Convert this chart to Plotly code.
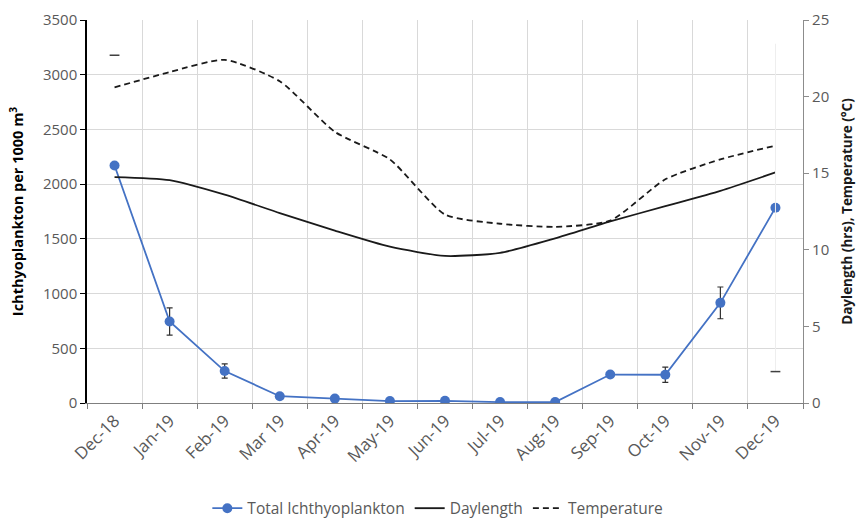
import plotly.graph_objects as go

# Monthly sampling periods
months = ["Dec-18", "Jan-19", "Feb-19", "Mar 19", "Apr-19", "May-19", "Jun-19",
          "Jul-19", "Aug-19", "Sep-19", "Oct-19", "Nov-19", "Dec-19"]

# Total ichthyoplankton density (per 1000 m^3) and its standard error
ichthyo = [2170, 745, 292, 62, 40, 18, 20, 8, 8, 260, 258, 915, 1785]
ichthyo_err = [None, 125, 65, 12, 8, 4, 4, 2, 2, 15, 70, 145, None]

# Environmental variables on the secondary axis
daylength = [14.75, 14.55, 13.6, 12.4, 11.25, 10.2, 9.6, 9.8, 10.75, 11.85, 12.85, 13.85, 15.05]
temperature = [20.6, 21.6, 22.4, 21.0, 17.7, 15.9, 12.3, 11.7, 11.5, 11.9, 14.6, 15.9, 16.8]

# Stray temperature range markers at the first and last month
range_months = ["Dec-18", "Dec-19"]
range_vals = [22.7, 2.05]
range_span = [0, 21.4]

BLUE = "#4472C4"
TXT = "#595959"
GRID = "#d9d9d9"
FONT = "Open Sans"

fig = go.Figure()

fig.add_trace(go.Scatter(
    x=months, y=ichthyo, mode="lines+markers", name="Total Ichthyoplankton",
    line=dict(color=BLUE, width=1.8),
    marker=dict(color=BLUE, size=10),
    error_y=dict(type="data", array=ichthyo_err, color="#303030", thickness=1.2, width=3),
))

fig.add_trace(go.Scatter(
    x=months, y=daylength, yaxis="y2", mode="lines", name="Daylength",
    line=dict(color="#1a1a1a", width=1.8, shape="spline", smoothing=0.6),
))

fig.add_trace(go.Scatter(
    x=months, y=temperature, yaxis="y2", mode="lines", name="Temperature",
    line=dict(color="#1a1a1a", width=1.8, dash="6px,4px", shape="spline", smoothing=0.6),
))

fig.add_trace(go.Scatter(
    x=range_months, y=range_vals, yaxis="y2", mode="markers", showlegend=False,
    marker=dict(symbol="line-ew", size=7, line=dict(width=1.5, color="#404040")),
    error_y=dict(type="data", array=range_span, arrayminus=[0, 0], color="#eeeeee",
                 thickness=1, width=0),
    hoverinfo="skip",
))

fig.update_layout(
    width=861, height=519,
    margin=dict(l=87, r=58, t=20, b=116, autoexpand=False),
    plot_bgcolor="white", paper_bgcolor="white",
    font=dict(family=FONT, size=15, color=TXT),
    xaxis=dict(
        type="category", categoryorder="array", categoryarray=months,
        range=[-0.5, 12.5], tickson="boundaries", automargin=False,
        showgrid=True, gridcolor=GRID, gridwidth=1,
        showline=True, linecolor="#7f7f7f", linewidth=1.2,
        ticks="outside", ticklen=5, tickcolor="#7f7f7f",
        tickangle=-45, tickfont=dict(size=17, color=TXT),
    ),
    yaxis=dict(
        range=[0, 3500], dtick=500, showgrid=True, gridcolor=GRID, gridwidth=1,
        showline=True, linecolor="black", linewidth=1.5, automargin=False,
        ticks="outside", ticklen=5, tickcolor="black",
        zeroline=False, tickfont=dict(size=15, color=TXT),
        title=dict(text="Ichthyoplankton per 1000 m<sup>3</sup>",
                   font=dict(size=14.5, color="black", family=FONT, weight="bold"),
                   standoff=16),
    ),
    yaxis2=dict(
        range=[0, 25], dtick=5, overlaying="y", side="right", showgrid=False,
        showline=True, linecolor="#8c8c8c", linewidth=1.2, automargin=False,
        ticks="outside", ticklen=5, tickcolor="#8c8c8c",
        zeroline=False, tickfont=dict(size=15, color=TXT),
        title=dict(text="Daylength (hrs), Temperature (°C)",
                   font=dict(size=13.5, color="#1a1a1a", family=FONT, weight="bold"),
                   standoff=14),
    ),
    legend=dict(
        orientation="h", x=0.49, xanchor="center",
        yref="container", y=0.02, yanchor="middle",
        font=dict(size=15.5, color=TXT), traceorder="normal",
        itemwidth=30,
    ),
    showlegend=True,
)

fig.write_html("out.html")
